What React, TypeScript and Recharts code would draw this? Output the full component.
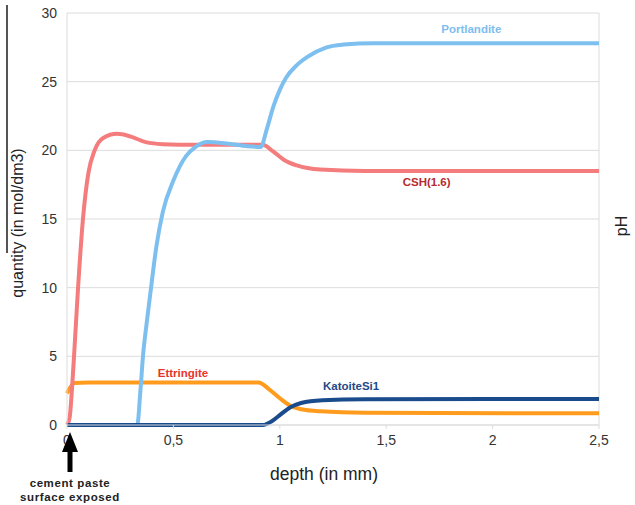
import React from "react";
import {
  LineChart,
  Line,
  XAxis,
  YAxis,
  CartesianGrid,
  ReferenceLine,
  ReferenceDot,
} from "recharts";

// depth in mm, quantity in mol/dm3
const cshDepth = [0, 0.012, 0.025, 0.033, 0.052, 0.075, 0.1, 0.13, 0.17, 0.235, 0.3, 0.37, 0.45, 0.6, 0.8, 0.92, 0.97, 1.02, 1.08, 1.19, 1.4, 1.8, 2.5];
const cshQty = [0, 0.5, 3, 5, 10, 15, 18.3, 20, 20.9, 21.2, 21.0, 20.6, 20.45, 20.4, 20.4, 20.4, 19.9, 19.3, 18.9, 18.6, 18.5, 18.5, 18.5];

const portDepth = [0, 0.33, 0.345, 0.357, 0.375, 0.395, 0.42, 0.45, 0.5, 0.56, 0.6, 0.66, 0.75, 0.85, 0.91, 0.94, 0.97, 1.0, 1.03, 1.08, 1.13, 1.22, 1.3, 1.44, 1.7, 2.5];
const portQty = [0, 0, 2.5, 5, 7.5, 10, 13, 15.5, 17.8, 19.6, 20.2, 20.6, 20.5, 20.3, 20.25, 21.6, 23.2, 24.4, 25.3, 26.2, 26.8, 27.5, 27.7, 27.8, 27.8, 27.8];

const ettDepth = [0, 0.035, 0.1, 0.5, 0.9, 0.95, 1.0, 1.05, 1.1, 1.19, 1.4, 2.5];
const ettQty = [2.3, 3.05, 3.1, 3.1, 3.1, 2.6, 1.95, 1.4, 1.15, 1.0, 0.9, 0.85];

const katDepth = [0, 0.92, 0.96, 0.99, 1.05, 1.1, 1.2, 1.4, 2.5];
const katQty = [0, 0, 0.25, 0.6, 1.3, 1.6, 1.8, 1.88, 1.9];

const xTicks = [0, 0.5, 1, 1.5, 2, 2.5];
const yTicks = [0, 5, 10, 15, 20, 25, 30];

const toPoints = (xs: number[], ys: number[]) => xs.map((x, i) => ({ x, v: ys[i] }));

const font = "'Liberation Sans', Arial, sans-serif";
const fmt = (v: number) => String(v).replace(".", ",");

const seriesLabel = (value: string, fill: string) => ({
  value,
  position: "center" as const,
  fill,
  fontSize: 11.5,
  fontWeight: 700,
  fontFamily: font,
});

export default function App() {
  return (
    <div style={{ position: "relative", width: 635, height: 505, fontFamily: font, background: "#fff" }}>
      <style>{`body{margin:0}`}</style>
      <div style={{ position: "absolute", left: 6, top: 5, width: 2, height: 248, background: "#555" }} />
      <LineChart width={635} height={505} margin={{ top: 13, right: 36, bottom: 50, left: 0 }}>
        <CartesianGrid vertical={false} stroke="#dcdcdc" />
        <XAxis
          dataKey="x"
          type="number"
          domain={[0, 2.5]}
          ticks={xTicks}
          tickFormatter={fmt}
          allowDuplicatedCategory={false}
          stroke="#dcdcdc"
          tickSize={4}
          tickMargin={6}
          tick={{ fill: "#333", fontSize: 14, fontFamily: font }}
        />
        <YAxis
          type="number"
          domain={[0, 30]}
          ticks={yTicks}
          width={67}
          stroke="#dcdcdc"
          tickLine={false}
          tickSize={0}
          tickMargin={10}
          tick={{ fill: "#333", fontSize: 14, fontFamily: font }}
        />
        <ReferenceLine x={2.5} stroke="#dcdcdc" />
        <Line data={toPoints(ettDepth, ettQty)} dataKey="v" type="monotone" stroke="#FF9C1E" strokeWidth={4} dot={false} isAnimationActive={false} />
        <Line data={toPoints(cshDepth, cshQty)} dataKey="v" type="monotone" stroke="#F47C7C" strokeWidth={4} dot={false} isAnimationActive={false} />
        <Line data={toPoints(portDepth, portQty)} dataKey="v" type="monotone" stroke="#7DC0F0" strokeWidth={4} dot={false} isAnimationActive={false} />
        <Line data={toPoints(katDepth, katQty)} dataKey="v" type="monotone" stroke="#1A4B8C" strokeWidth={4} dot={false} isAnimationActive={false} />
        <ReferenceDot x={1.9} y={28.84} r={0} label={seriesLabel("Portlandite", "#7DBDEE")} />
        <ReferenceDot x={1.69} y={17.7} r={0} label={seriesLabel("CSH(1.6)", "#B82A2E")} />
        <ReferenceDot x={0.545} y={3.79} r={0} label={seriesLabel("Ettringite", "#E8342C")} />
        <ReferenceDot x={1.335} y={2.84} r={0} label={seriesLabel("KatoiteSi1", "#1F4A86")} />
      </LineChart>
      <div
        style={{
          position: "absolute",
          left: 18,
          top: 223,
          transform: "translate(-50%, -50%) rotate(-90deg)",
          whiteSpace: "nowrap",
          fontSize: 16,
          color: "#222",
        }}
      >
        quantity (in mol/dm3)
      </div>
      <div
        style={{
          position: "absolute",
          left: 622,
          top: 226,
          transform: "translate(-50%, -50%) rotate(-90deg)",
          fontSize: 16,
          color: "#222",
        }}
      >
        pH
      </div>
      <div
        style={{
          position: "absolute",
          left: 324,
          top: 474,
          transform: "translate(-50%, -50%)",
          whiteSpace: "nowrap",
          fontSize: 17.5,
          color: "#222",
        }}
      >
        depth (in mm)
      </div>
      <svg style={{ position: "absolute", left: 60, top: 432 }} width={20} height={42}>
        <polygon points="10,0 18,20 2,20" fill="#000" />
        <rect x={7.5} y={18} width={5} height={22} fill="#000" />
      </svg>
      <div
        style={{
          position: "absolute",
          left: 70,
          top: 490,
          transform: "translate(-50%, -50%)",
          textAlign: "center",
          whiteSpace: "nowrap",
          fontSize: 11.5,
          fontWeight: 700,
          lineHeight: "14px",
          letterSpacing: 0.6,
          color: "#222",
        }}
      >
        cement paste
        <br />
        surface exposed
      </div>
    </div>
  );
}
